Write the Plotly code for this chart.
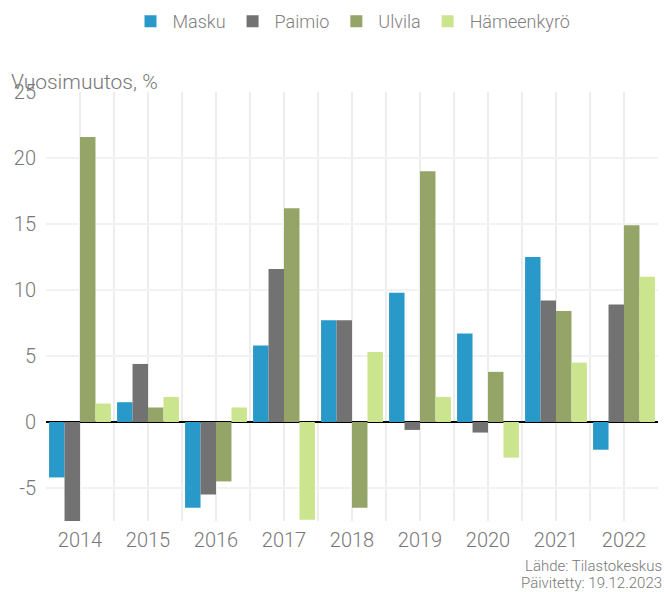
import plotly.graph_objects as go

years = [2014, 2015, 2016, 2017, 2018, 2019, 2020, 2021, 2022]
masku = [-4.2, 1.5, -6.5, 5.8, 7.7, 9.8, 6.7, 12.5, -2.1]
paimio = [-7.7, 4.4, -5.5, 11.6, 7.7, -0.6, -0.8, 9.2, 8.9]
ulvila = [21.6, 1.1, -4.5, 16.2, -6.5, 19.0, 3.8, 8.4, 14.9]
hameenkyro = [1.4, 1.9, 1.1, -7.4, 5.3, 1.9, -2.7, 4.5, 11.0]
y_ticks = [-5, 0, 5, 10, 15, 20, 25]
y_ticktext = ["-5", "0", "5", "10", "15", "20", "25"]

series = [
    ("Masku", masku, "#2899c8"),
    ("Paimio", paimio, "#727272"),
    ("Ulvila", ulvila, "#94a567"),
    ("Hämeenkyrö", hameenkyro, "#cbe58e"),
]

FONT = "Roboto"
GREY = "#777777"

fig = go.Figure()
for name, vals, col in series:
    fig.add_trace(go.Bar(x=years, y=vals, name=name, marker=dict(color=col, line=dict(width=0))))

fig.update_layout(
    width=664, height=592,
    margin=dict(l=46, r=6, t=92, b=71),
    paper_bgcolor="white", plot_bgcolor="white",
    barmode="group", bargap=0.09, bargroupgap=0,
    font=dict(family=FONT, color=GREY, size=19, weight=300),
    showlegend=True,
    legend=dict(orientation="h", x=0.5, xanchor="center", y=0.995, yanchor="top",
                yref="container", font=dict(size=18, color="#808080", weight=300),
                traceorder="normal", itemwidth=34),
    xaxis=dict(type="linear", range=[2013.5, 2022.5], tickmode="array", tickvals=years,
               ticktext=[str(y) for y in years], showgrid=True, gridcolor="#ededed", gridwidth=2,
               ticks="", zeroline=False, showline=False, tickfont=dict(size=20, color=GREY),
               ticklabelstandoff=5,
               minor=dict(tick0=2013.5, dtick=1, showgrid=True, gridcolor="#ededed", gridwidth=2)),
    yaxis=dict(range=[-7.5, 25], tickmode="array", tickvals=y_ticks, ticktext=y_ticktext,
               showgrid=True, gridcolor="#f2f2f2", gridwidth=2,
               zeroline=True, zerolinecolor="#000000", zerolinewidth=1.5, showline=False,
               ticks="", ticklabelstandoff=9, tickfont=dict(size=20, color=GREY)),
    annotations=[
        dict(text="Vuosimuutos, %", xref="paper", yref="paper", x=0, y=1, xanchor="left",
             yanchor="bottom", xshift=-37, yshift=-4, showarrow=False,
             font=dict(size=21, color=GREY, family=FONT)),
        dict(text="Lähde: Tilastokeskus", xref="paper", yref="paper",
             x=1, y=0, xanchor="right", yanchor="middle", yshift=-45, xshift=6, align="right",
             showarrow=False, font=dict(size=15, color=GREY)),
        dict(text="Päivitetty: 19.12.2023", xref="paper", yref="paper",
             x=1, y=0, xanchor="right", yanchor="middle", yshift=-62, xshift=6, align="right",
             showarrow=False, font=dict(size=15, color=GREY)),
    ],
)

fig.write_html("out.html", config={"displayModeBar": False},
               post_script="document.body.style.margin='0';document.body.style.padding='0';")
